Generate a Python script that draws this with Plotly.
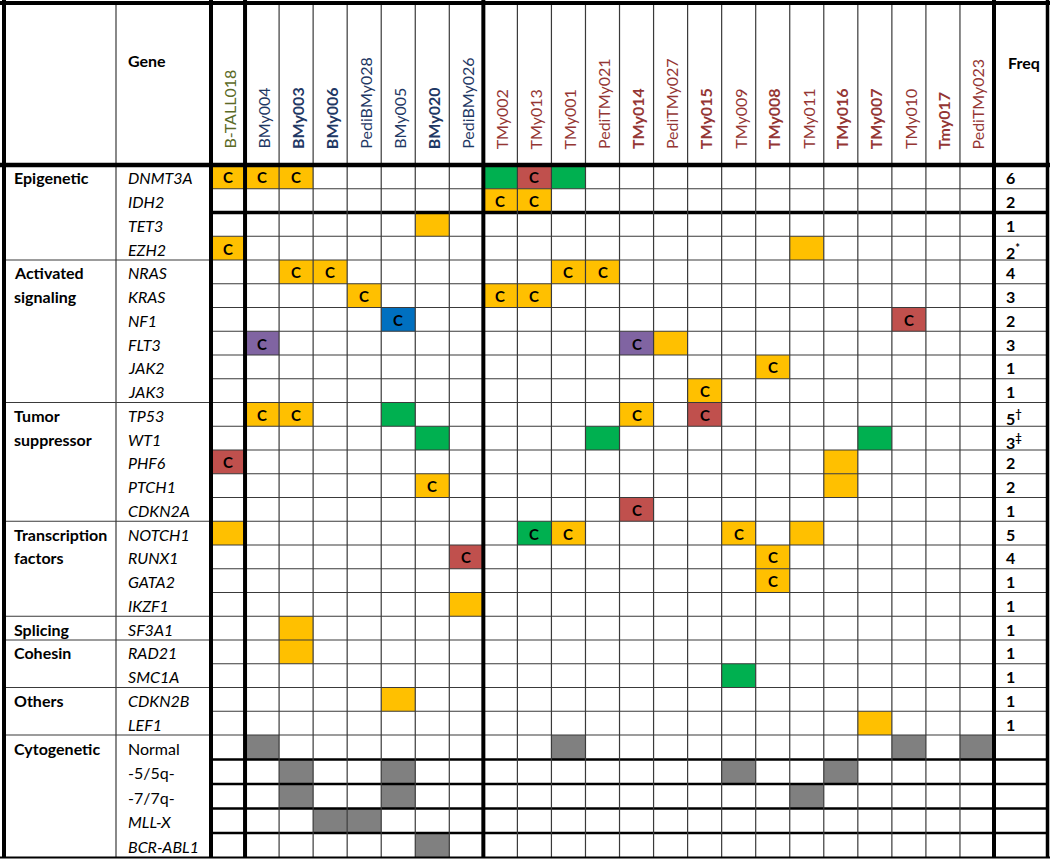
import plotly.graph_objects as go

# ---------------- DATA ----------------
samples = ["B-TALL018", "BMy004", "BMy003", "BMy006", "PediBMy028", "BMy005", "BMy020", "PediBMy026",
           "TMy002", "TMy013", "TMy001", "PediTMy021", "TMy014", "PediTMy027", "TMy015", "TMy009",
           "TMy008", "TMy011", "TMy016", "TMy007", "TMy010", "Tmy017", "PediTMy023"]
sample_groups = ["B-TALL"] + ["BMy"] * 7 + ["TMy"] * 15
bold_samples = {"BMy003", "BMy006", "BMy020", "TMy014", "TMy015", "TMy008", "TMy016", "TMy007", "Tmy017"}

categories = ["Epigenetic", "Activated signaling", "Tumor suppressor", "Transcription factors",
              "Splicing", "Cohesin", "Others", "Cytogenetic"]
category_genes = [
    ["DNMT3A", "IDH2", "TET3", "EZH2"],
    ["NRAS", "KRAS", "NF1", "FLT3", "JAK2", "JAK3"],
    ["TP53", "WT1", "PHF6", "PTCH1", "CDKN2A"],
    ["NOTCH1", "RUNX1", "GATA2", "IKZF1"],
    ["SF3A1"],
    ["RAD21", "SMC1A"],
    ["CDKN2B", "LEF1"],
    ["Normal", "-5/5q-", "-7/7q-", "MLL-X", "BCR-ABL1"],
]
upright_genes = {"Normal", "-5/5q-", "-7/7q-"}

freq_values = ["6", "2", "1", "2", "4", "3", "2", "3", "1", "1", "5", "3", "2", "2", "1",
               "5", "4", "1", "1", "1", "1", "1", "1", "1", "", "", "", "", ""]
freq_notes = {"EZH2": "*", "TP53": "†", "WT1": "‡"}

# (gene, sample, kind, clonal "C" mark)
alterations = [
    ("DNMT3A", "B-TALL018", "orange", True), ("DNMT3A", "BMy004", "orange", True),
    ("DNMT3A", "BMy003", "orange", True), ("DNMT3A", "TMy002", "green", False),
    ("DNMT3A", "TMy013", "red", True), ("DNMT3A", "TMy001", "green", False),
    ("IDH2", "TMy002", "orange", True), ("IDH2", "TMy013", "orange", True),
    ("TET3", "BMy020", "orange", False),
    ("EZH2", "B-TALL018", "orange", True), ("EZH2", "TMy011", "orange", False),
    ("NRAS", "BMy003", "orange", True), ("NRAS", "BMy006", "orange", True),
    ("NRAS", "TMy001", "orange", True), ("NRAS", "PediTMy021", "orange", True),
    ("KRAS", "PediBMy028", "orange", True), ("KRAS", "TMy002", "orange", True),
    ("KRAS", "TMy013", "orange", True),
    ("NF1", "BMy005", "blue", True), ("NF1", "TMy010", "red", True),
    ("FLT3", "BMy004", "purple", True), ("FLT3", "TMy014", "purple", True),
    ("FLT3", "PediTMy027", "orange", False),
    ("JAK2", "TMy008", "orange", True),
    ("JAK3", "TMy015", "orange", True),
    ("TP53", "BMy004", "orange", True), ("TP53", "BMy003", "orange", True),
    ("TP53", "BMy005", "green", False), ("TP53", "TMy014", "orange", True),
    ("TP53", "TMy015", "red", True),
    ("WT1", "BMy020", "green", False), ("WT1", "PediTMy021", "green", False),
    ("WT1", "TMy007", "green", False),
    ("PHF6", "B-TALL018", "red", True), ("PHF6", "TMy016", "orange", False),
    ("PTCH1", "BMy020", "orange", True), ("PTCH1", "TMy016", "orange", False),
    ("CDKN2A", "TMy014", "red", True),
    ("NOTCH1", "B-TALL018", "orange", False), ("NOTCH1", "TMy013", "green", True),
    ("NOTCH1", "TMy001", "orange", True), ("NOTCH1", "TMy009", "orange", True),
    ("NOTCH1", "TMy011", "orange", False),
    ("RUNX1", "PediBMy026", "red", True), ("RUNX1", "TMy008", "orange", True),
    ("GATA2", "TMy008", "orange", True),
    ("IKZF1", "PediBMy026", "orange", False),
    ("SF3A1", "BMy003", "orange", False),
    ("RAD21", "BMy003", "orange", False),
    ("SMC1A", "TMy009", "green", False),
    ("CDKN2B", "BMy005", "orange", False),
    ("LEF1", "TMy007", "orange", False),
    ("Normal", "BMy004", "gray", False), ("Normal", "TMy001", "gray", False),
    ("Normal", "TMy010", "gray", False), ("Normal", "PediTMy023", "gray", False),
    ("-5/5q-", "BMy003", "gray", False), ("-5/5q-", "BMy005", "gray", False),
    ("-5/5q-", "TMy009", "gray", False), ("-5/5q-", "TMy016", "gray", False),
    ("-7/7q-", "BMy003", "gray", False), ("-7/7q-", "BMy005", "gray", False),
    ("-7/7q-", "TMy011", "gray", False),
    ("MLL-X", "BMy006", "gray", False), ("MLL-X", "PediBMy028", "gray", False),
    ("BCR-ABL1", "BMy020", "gray", False),
]

# ---------------- STYLE / LAYOUT ----------------
FONT = "Lato"
kind_colors = {"orange": "#FFC000", "green": "#00B050", "red": "#C0504D",
               "blue": "#0070C0", "purple": "#8064A2", "gray": "#808080"}
group_colors = {"B-TALL": "#5B6A26", "BMy": "#1F3864", "TMy": "#943634"}

W, H = 1050, 860
X_LEFT, X_GENE, X_DATA, X_FREQ, X_RIGHT = 4, 116, 211, 994, 1047
Y_TOP, Y_HEAD = 3, 165
ROW_H, CYTO_ROW_H = 23.75, 24.5
THIN = "#3a3a3a"
LABEL_SIZE = 16

genes = [g for grp in category_genes for g in grp]
n_rows = len(genes)
n_cyto = len(category_genes[-1])
row_edges = [Y_HEAD]
for i in range(n_rows):
    row_edges.append(row_edges[-1] + (CYTO_ROW_H if i >= n_rows - n_cyto else ROW_H))
Y_BOT = row_edges[-1]
col_w = (X_FREQ - X_DATA) / len(samples)
col_edges = [X_DATA + i * col_w for i in range(len(samples) + 1)]

gene_idx = {g: i for i, g in enumerate(genes)}
samp_idx = {s: i for i, s in enumerate(samples)}

shapes = []
annotations = []


def hline(y, x0, x1, w=1.2, c=THIN):
    shapes.append(dict(type="line", xref="x", yref="y", x0=x0, x1=x1, y0=y, y1=y,
                       line=dict(color=c, width=w)))


def vline(x, y0, y1, w=1.2, c=THIN):
    shapes.append(dict(type="line", xref="x", yref="y", x0=x, x1=x, y0=y0, y1=y1,
                       line=dict(color=c, width=w)))


# coloured cells
for gene, samp, kind, clonal in alterations:
    r, c = gene_idx[gene], samp_idx[samp]
    x0, x1 = col_edges[c], col_edges[c + 1]
    y0, y1 = row_edges[r], row_edges[r + 1]
    shapes.append(dict(type="rect", xref="x", yref="y", x0=x0, x1=x1, y0=y0, y1=y1,
                       fillcolor=kind_colors[kind], line=dict(width=0), layer="below"))
    if clonal:
        annotations.append(dict(x=(x0 + x1) / 2, y=(y0 + y1) / 2 + 0.5, text="<b>C</b>",
                                showarrow=False, xanchor="center", yanchor="middle",
                                font=dict(family=FONT, size=15, color="black")))

# horizontal grid lines in data + freq area
idh2_end = gene_idx["IDH2"] + 1
for i in range(1, n_rows):
    if i == idh2_end:
        hline(row_edges[i], X_DATA, X_RIGHT, w=3.5, c="black")
    elif i > n_rows - n_cyto:
        hline(row_edges[i], X_DATA, X_RIGHT, w=2.5, c="black")
    else:
        hline(row_edges[i], X_DATA, X_RIGHT)

# category boundaries in label columns
acc = 0
for grp in category_genes[:-1]:
    acc += len(grp)
    hline(row_edges[acc], X_LEFT, X_DATA)

# vertical grid lines
for i in range(2, len(samples)):
    if i == 8:
        continue
    vline(col_edges[i], Y_TOP, Y_BOT)
vline(X_GENE, Y_TOP, Y_BOT)

# thick lines / borders
hline(Y_BOT, 0, W, w=2, c="black")
hline(Y_HEAD, 0, W, w=4.5, c="black")
hline(Y_TOP, 0, W, w=4, c="black")
for x in (X_LEFT, X_DATA, col_edges[1], col_edges[8], X_FREQ):
    vline(x, 0, Y_BOT, w=4, c="black")
vline(X_RIGHT + 0.5, 0, Y_BOT, w=3.5, c="black")

# header texts
annotations.append(dict(x=X_GENE + 10, y=60, text="<b>Gene</b>", showarrow=False,
                        xanchor="left", yanchor="middle",
                        font=dict(family=FONT, size=LABEL_SIZE, color="black")))
annotations.append(dict(x=X_FREQ + 12, y=62, text="<b>Freq</b>", showarrow=False,
                        xanchor="left", yanchor="middle",
                        font=dict(family=FONT, size=LABEL_SIZE, color="black")))
for i, s in enumerate(samples):
    txt = f"<b>{s}</b>" if s in bold_samples else s
    annotations.append(dict(x=(col_edges[i] + col_edges[i + 1]) / 2 + 1, y=151, text=txt,
                            textangle=-90, showarrow=False, xanchor="center", yanchor="bottom",
                            font=dict(family=FONT, size=16, color=group_colors[sample_groups[i]])))

# category and gene labels
r = 0
for cat, grp in zip(categories, category_genes):
    words = cat.split(" ")
    for k, wtxt in enumerate(words):
        yc = (row_edges[r + k] + row_edges[r + k + 1]) / 2 + 1
        annotations.append(dict(x=12, y=yc, text=f"<b>{wtxt}</b>", showarrow=False,
                                xanchor="left", yanchor="middle",
                                font=dict(family=FONT, size=LABEL_SIZE, color="black")))
    r += len(grp)

for i, g in enumerate(genes):
    yc = (row_edges[i] + row_edges[i + 1]) / 2 + 1
    txt = g if g in upright_genes else f"<i>{g}</i>"
    annotations.append(dict(x=X_GENE + 10, y=yc, text=txt, showarrow=False,
                            xanchor="left", yanchor="middle",
                            font=dict(family=FONT, size=LABEL_SIZE, color="black")))
    if freq_values[i]:
        note = freq_notes.get(g, "")
        ftxt = f"<b>{freq_values[i]}</b>" + (f"<sup><b>{note}</b></sup>" if note else "")
        annotations.append(dict(x=X_FREQ + 10, y=yc + (2 if note else 0), text=ftxt,
                                showarrow=False, xanchor="left", yanchor="middle",
                                font=dict(family=FONT, size=LABEL_SIZE, color="black")))

fig = go.Figure()
fig.add_trace(go.Scatter(x=[0, W], y=[0, H], mode="markers", marker=dict(opacity=0),
                         hoverinfo="skip", showlegend=False))
fig.update_layout(
    width=W, height=H, margin=dict(l=0, r=0, t=0, b=0),
    paper_bgcolor="white", plot_bgcolor="white",
    xaxis=dict(range=[0, W], visible=False, fixedrange=True),
    yaxis=dict(range=[H, 0], visible=False, fixedrange=True),
    shapes=shapes, annotations=annotations, showlegend=False,
)
fig.write_html("out.html", config={"displayModeBar": False},
               post_script="document.body.style.margin='0';document.body.style.overflow='hidden';")
